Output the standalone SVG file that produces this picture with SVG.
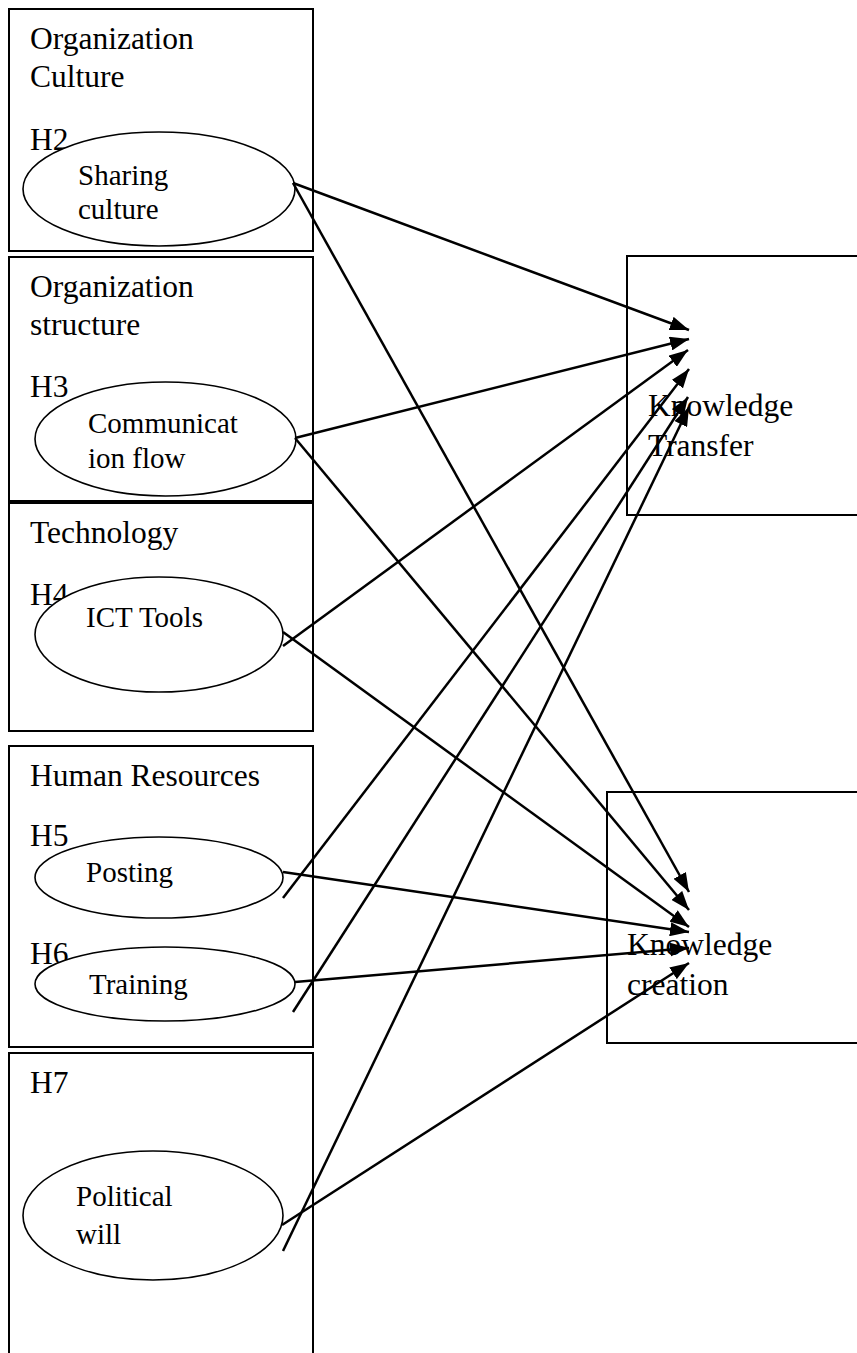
<svg xmlns="http://www.w3.org/2000/svg" width="857" height="1353" viewBox="0 0 857 1353">
<style>
.box{fill:none;stroke:#000;stroke-width:2}
.ell{fill:#fff;stroke:#000;stroke-width:1.6}
.t{font-family:"Liberation Serif","Times New Roman",serif;font-size:31.5px;fill:#000}
.e{font-family:"Liberation Serif","Times New Roman",serif;font-size:29px;fill:#000}
.c line{stroke:#000;stroke-width:2.5;marker-end:url(#ah)}
</style>
<defs>
<marker id="ah" markerUnits="userSpaceOnUse" markerWidth="20" markerHeight="14" refX="19" refY="7" orient="auto">
<path d="M0,0 L19,7 L0,14 Z" fill="#000"/>
</marker>
</defs>
<rect width="857" height="1353" fill="#fff"/>

<g id="culture">
<rect class="box" x="9" y="9" width="304" height="242"/>
<text class="t" x="30" y="49">Organization</text>
<text class="t" x="30" y="87">Culture</text>
<text class="t" x="30" y="150">H2</text>
<ellipse class="ell" cx="159" cy="189" rx="136" ry="57"/>
<text class="e" x="78" y="185">Sharing</text>
<text class="e" x="78" y="219">culture</text>
</g>

<g id="structure">
<rect class="box" x="9" y="257" width="304" height="244"/>
<text class="t" x="30" y="297">Organization</text>
<text class="t" x="30" y="335">structure</text>
<text class="t" x="30" y="397">H3</text>
<ellipse class="ell" cx="165.5" cy="439" rx="130.5" ry="57"/>
<text class="e" x="88" y="433">Communicat</text>
<text class="e" x="88" y="468">ion flow</text>
</g>

<g id="technology">
<rect class="box" x="9" y="503" width="304" height="228"/>
<text class="t" x="30" y="543">Technology</text>
<text class="t" x="30" y="605">H4</text>
<ellipse class="ell" cx="159" cy="634.5" rx="124" ry="57.5"/>
<text class="e" x="86" y="627">ICT Tools</text>
</g>

<g id="human">
<rect class="box" x="9" y="746" width="304" height="301"/>
<text class="t" x="30" y="786">Human Resources</text>
<text class="t" x="30" y="846">H5</text>
<ellipse class="ell" cx="159" cy="877.5" rx="124" ry="40.5"/>
<text class="e" x="86" y="882">Posting</text>
<text class="t" x="30" y="964">H6</text>
<ellipse class="ell" cx="165" cy="984" rx="130" ry="37"/>
<text class="e" x="89" y="994">Training</text>
</g>

<g id="political">
<path class="box" d="M9,1360 V1053 H313 V1360"/>
<text class="t" x="30" y="1093">H7</text>
<ellipse class="ell" cx="153" cy="1215.5" rx="130" ry="64.5"/>
<text class="e" x="76" y="1206">Political</text>
<text class="e" x="76" y="1244">will</text>
</g>

<g id="transfer">
<path class="box" d="M870,256 H627 V515 H870"/>
<text class="t" x="648" y="416">Knowledge</text>
<text class="t" x="648" y="456">Transfer</text>
</g>

<g id="creation">
<path class="box" d="M870,792 H607 V1043 H870"/>
<text class="t" x="627" y="955">Knowledge</text>
<text class="t" x="627" y="995">creation</text>
</g>

<g id="connectors" class="c">
<line x1="293" y1="183" x2="689" y2="330"/>
<line x1="295" y1="438" x2="689" y2="339"/>
<line x1="283" y1="646" x2="688" y2="350"/>
<line x1="283" y1="898" x2="689" y2="369"/>
<line x1="293" y1="1012" x2="688" y2="397"/>
<line x1="283" y1="1251" x2="689" y2="407"/>
<line x1="293" y1="183" x2="689" y2="892"/>
<line x1="295" y1="438" x2="689" y2="910"/>
<line x1="283" y1="632" x2="689" y2="927"/>
<line x1="283" y1="872" x2="689" y2="932"/>
<line x1="295" y1="982" x2="689" y2="948"/>
<line x1="282" y1="1225" x2="689" y2="963"/>
</g>
</svg>
